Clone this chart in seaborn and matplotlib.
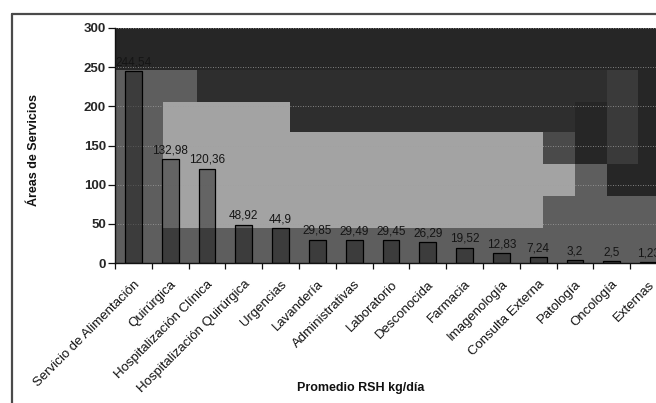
import numpy as np
import pandas as pd
import matplotlib
matplotlib.use("Agg")
import matplotlib.pyplot as plt
from matplotlib.lines import Line2D
import seaborn as sns

areas = ["Servicio de Alimentación", "Quirúrgica", "Hospitalización Clínica",
         "Hospitalización Quirúrgica", "Urgencias", "Lavandería", "Administrativas",
         "Laboratorio", "Desconocida", "Farmacia", "Imagenología", "Consulta Externa",
         "Patología", "Oncología", "Externas"]
rsh_kg_dia = [244.54, 132.98, 120.36, 48.92, 44.9, 29.85, 29.49, 29.45, 26.29,
              19.52, 12.83, 7.24, 3.2, 2.5, 1.23]
y_ticks = [0, 50, 100, 150, 200, 250, 300]

sns.set_style("white")
plt.rcParams["font.family"] = ["Liberation Sans", "DejaVu Sans"]

fig = plt.figure(figsize=(6.56, 4.03), dpi=100)
fig.patch.set_facecolor("white")
ax = fig.add_axes([115 / 656, 140 / 403, 552 / 656, 235 / 403])

# stepped gray fill of the plot area
x_edges = [-0.5, 0.80, 1.73, 4.26, 11.13, 12.0, 12.87, 13.71, 14.5]
y_edges = [0, 45, 86, 126, 167, 206, 247, 300]
D, D2, D3, MD, M, L = 0.15, 0.18, 0.23, 0.29, 0.37, 0.64
shade = np.array([
    [M, M, M, M, M, M, M, M],
    [M, L, L, L, M, M, M, M],
    [M, L, L, L, L, M, D, D],
    [M, L, L, L, MD, D, D3, D],
    [M, L, L, D2, D2, D, D3, D],
    [M, M, D2, D2, D2, D2, D3, D],
    [D, D, D, D, D, D, D, D],
])
ax.pcolormesh(x_edges, y_edges, shade, cmap="gray", vmin=0, vmax=1,
              shading="flat", zorder=0)

df = pd.DataFrame({"area": areas, "rsh": rsh_kg_dia})
sns.barplot(data=df, x="area", y="rsh", order=areas, color="black",
            width=0.46, edgecolor="black", linewidth=0.9, ax=ax)
for p in ax.patches:
    p.set_facecolor((0.05, 0.05, 0.05, 0.42))

labels = [f"{v:g}".replace(".", ",") for v in rsh_kg_dia]
ax.bar_label(ax.containers[0], labels=labels, padding=2, fontsize=8.5,
             color="#151515")

ax.set_xlim(-0.5, len(areas) - 0.5)
ax.set_ylim(0, 300)
ax.set_yticks(y_ticks)
ax.yaxis.grid(True, color="#a0a0a0", linestyle=(0, (1, 2)), linewidth=0.6)
ax.xaxis.grid(False)
ax.set_axisbelow(True)

for side in ("top", "right"):
    ax.spines[side].set_visible(False)
for side in ("left", "bottom"):
    ax.spines[side].set_color("#111111")
    ax.spines[side].set_linewidth(1.0)

ax.tick_params(axis="y", direction="out", length=5, width=0.9, color="#111111",
               labelsize=9.5, pad=1.5, left=True)
for t in ax.get_yticklabels():
    t.set_fontweight("bold")

ax.set_xticks(np.arange(len(areas)))
ax.set_xticklabels(areas, rotation=45, ha="right", rotation_mode="anchor",
                   fontsize=9.5, color="#111111")
ax.set_xticks(np.arange(-0.5, len(areas), 1), minor=True)
ax.tick_params(axis="x", which="major", length=0, pad=11)
ax.tick_params(axis="x", which="minor", direction="out", length=4, width=0.9,
               color="#111111", bottom=True)
ax.set_xlabel("")
ax.set_ylabel("")

fig.text(34 / 656, 1 - 150 / 403, "Áreas de Servicios", rotation=90,
         ha="center", va="center", fontsize=9, fontweight="bold", color="#111111")
fig.text(361 / 656, 1 - 388 / 403, "Promedio RSH kg/día", ha="center",
         va="center", fontsize=9, fontweight="bold", color="#111111")

# chart frame
fig.add_artist(Line2D([12 / 656, 1.0], [1 - 14 / 403] * 2, color="#4a4a4a", lw=1.6))
fig.add_artist(Line2D([12 / 656] * 2, [0.0, 1 - 14 / 403], color="#4a4a4a", lw=1.6))

fig.savefig("out.png", dpi=100)
